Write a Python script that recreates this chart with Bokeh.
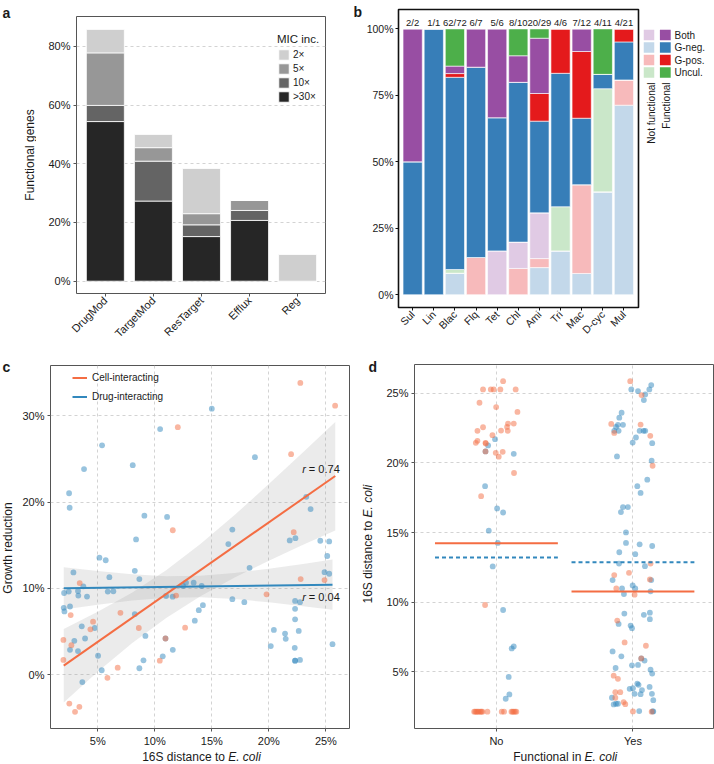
import math
from bokeh.plotting import figure
from bokeh.models import (ColumnDataSource, Range1d, FixedTicker, PrintfTickFormatter,
                          Legend, LegendItem, Label)
from bokeh.layouts import row, column
from bokeh.embed import file_html
from bokeh.resources import INLINE
from bokeh.core.properties import value

FONT = "Liberation Sans"
TXT = "#1a1a1a"
GRID = "#c8c8c8"
FRAME = "#555555"

# ---------------- panel a data ----------------
mech_categories = ["DrugMod", "TargetMod", "ResTarget", "Efflux", "Reg"]
mic_levels = [">30×", "10×", "5×", "2×"]
mic_over30x = [54.4, 27.3, 15.2, 20.7, 0.0]
mic_10x = [5.5, 13.6, 4.0, 3.4, 0.0]
mic_5x = [17.9, 4.6, 3.8, 3.4, 0.0]
mic_2x = [8.0, 4.5, 15.4, 0.0, 9.1]
mic_colors = ["#262626", "#646464", "#979797", "#cfcfcf"]
a_yticks = [0, 20, 40, 60, 80]

# ---------------- panel b data ----------------
drug_classes = ["Sul", "Lin", "Blac", "Flq", "Tet", "Chl", "Ami", "Tri", "Mac", "D-cyc", "Mul"]
class_counts = ["2/2", "1/1", "62/72", "6/7", "5/6", "8/10", "20/29", "4/6", "7/12", "4/11", "4/21"]
nf_gneg = [0, 0, 8.1, 0, 0, 0, 10.2, 16.5, 8.0, 38.7, 71.3]
nf_gpos = [0, 0, 0, 14.0, 0, 9.9, 3.4, 0, 33.4, 0, 9.5]
nf_both = [0, 0, 0, 0, 16.5, 9.9, 17.2, 0, 0, 0, 0]
nf_uncul = [0, 0, 1.4, 0, 0, 0, 0, 16.6, 0, 38.8, 0]
f_gneg = [50.0, 100.0, 72.3, 71.6, 50.1, 60.1, 34.5, 50.2, 25.0, 5.4, 14.3]
f_gpos = [0, 0, 1.4, 0, 0, 0, 10.4, 16.7, 25.1, 0, 4.9]
f_both = [50.0, 0, 2.8, 14.4, 33.4, 10.0, 20.8, 0, 8.5, 0, 0]
f_uncul = [0, 0, 14.0, 0, 0, 10.1, 3.5, 0, 0, 17.1, 0]
org_groups = ["Both", "G-neg.", "G-pos.", "Uncul."]
func_colors = ["#984EA3", "#377EB8", "#E41A1C", "#4DAF4A"]
nonfunc_colors = ["#E0CAE4", "#C3D8EA", "#F7BABB", "#CAE7C9"]
b_yticks = [0, 25, 50, 75, 100]

# ---------------- panel c data ----------------
cell_dist = [12.02, 11.58, 3.42, 2.63, 6.99, 4.59, 4.36, 8.60, 1.99, 2.69, 10.94, 10.44, 1.99,
             6.75, 5.85, 2.51, 3.39, 3.01, 11.87, 12.66, 22.76, 25.81, 21.95, 22.18, 22.79,
             24.88, 19.80]
cell_growth = [28.7, 16.74, 10.61, 6.90, 7.16, 6.13, 5.25, 5.40, 4.02, 3.41, 4.18, 1.61, 1.69,
               0.80, -0.38, -3.37, -3.75, -4.33, 9.16, 5.44, 33.83, 31.19, 25.56, 16.51, 11.07,
               10.96, 9.31]
drug_dist = [10.47, 5.38, 3.80, 8.07, 2.49, 2.54, 9.09, 11.08, 8.36, 5.15, 5.70, 2.87, 6.02,
             8.25, 8.65, 3.74, 2.05, 2.46, 3.27, 3.30, 4.06, 5.88, 6.37, 2.02, 2.08, 2.57, 8.25,
             3.60, 4.74, 9.18, 2.95, 3.89, 2.57, 3.27, 10.94, 11.58, 10.70, 5.03, 9.01, 8.65,
             5.35, 3.65, 10.99, 11.57, 12.48, 12.74, 13.41, 14.11, 13.86, 13.51, 14.22, 15.00,
             18.78, 23.28, 23.66, 16.80, 16.45, 21.83, 22.33, 24.51, 25.29, 25.12, 18.31, 24.88,
             25.29, 16.80, 17.85, 22.30, 22.73, 22.30, 22.30, 20.44, 22.62, 21.42, 21.48, 20.17,
             25.58, 22.27, 22.30, 22.30, 22.73]
drug_growth = [28.47, 26.59, 23.83, 24.29, 21.03, 19.35, 18.43, 18.28, 15.67, 13.56, 13.26, 11.84,
               11.30, 12.03, 11.07, 10.23, 9.46, 9.62, 9.69, 9.16, 9.04, 9.62, 9.66, 7.74, 7.32,
               7.89, 7.01, 5.59, 5.40, 4.48, 3.91, 4.18, 2.87, 2.72, 4.18, 2.87, 2.11, 2.18, 1.65,
               0.73, 0.50, -0.88, 9.11, 9.03, 10.27, 10.66, 10.66, 10.27, 7.47, 6.25, 8.05, 30.84,
               25.21, 20.61, 19.20, 16.82, 15.13, 15.56, 15.82, 15.52, 15.44, 13.75, 12.38, 11.88,
               11.69, 8.74, 8.39, 8.54, 8.39, 7.62, 6.40, 5.17, 5.06, 4.75, 4.14, 3.30, 3.52, 3.10,
               1.61, 1.61, 1.69]
cell_fit_x = [2.02, 25.82]
cell_fit_y = [1.04, 23.03]
drug_fit_x = [2.02, 25.58]
drug_fit_y = [10.00, 10.43]
cell_band_x = [2.02, 5, 8, 11, 14, 17, 20, 23, 25.82]
cell_band_lower = [-3.23, 0.31, 3.63, 6.57, 9.09, 11.25, 13.21, 15.06, 16.72]
cell_band_upper = [5.27, 7.27, 9.49, 12.09, 15.13, 18.51, 22.09, 25.78, 29.30]
drug_band_x = [2.02, 5, 8, 11, 14, 17, 20, 23, 25.58]
drug_band_lower = [7.55, 8.10, 8.59, 8.91, 8.97, 8.75, 8.38, 7.93, 7.51]
drug_band_upper = [12.45, 12.00, 11.63, 11.41, 11.47, 11.79, 12.28, 12.83, 13.35]
r_values = ["0.74", "0.04"]
c_xticks = [5, 10, 15, 20, 25]
c_yticks = [0, 10, 20, 30]

# ---------------- panel d data ----------------
func_groups = ["No", "Yes"]
no_cell_jit = [0.049, -0.098, -0.041, -0.020, 0.029, 0.141, -0.124, -0.002, 0.154, -0.098,
               0.085, 0.127, 0.078, 0.034, -0.139, 0.083, -0.029, -0.139, -0.151, -0.080,
               -0.078, -0.080, -0.005, 0.046, 0.017, 0.129, -0.112, -0.083,
               -0.163, -0.155, -0.146, -0.138, -0.129, -0.117, -0.110, -0.102, -0.066,
               0.039, 0.056, 0.110, 0.118, 0.127, 0.137, 0.146]
no_cell_dist = [25.88, 25.29, 25.29, 25.29, 25.29, 25.29, 24.33, 24.02, 23.67, 22.57,
                22.83, 22.83, 22.59, 22.33, 22.31, 22.31, 22.00, 21.59, 21.45, 21.45,
                21.40, 20.83, 20.73, 20.80, 20.45, 19.28, 17.61, 9.79,
                2.12, 2.12, 2.12, 2.12, 2.12, 2.12, 2.12, 2.12, 2.12,
                2.12, 2.12, 2.12, 2.12, 2.12, 2.12, 2.12]
no_drug_jit = [-0.010, -0.061, -0.080, 0.127, -0.083, 0.005, 0.049, -0.056, 0.010, -0.027,
               0.049, 0.112, 0.127, 0.090, 0.095, 0.068]
no_drug_dist = [21.71, 21.26, 20.83, 20.66, 18.33, 16.73, 16.44, 15.13, 14.25, 12.56,
                9.43, 6.67, 6.81, 4.62, 3.36, 3.05]
yes_cell_jit = [-0.020, 0.063, -0.159, -0.137, 0.056, 0.127, 0.144, 0.129, -0.137, -0.029,
                0.124, -0.122, 0.012, -0.115, -0.061, 0.095, 0.061, -0.141, -0.110, -0.129,
                -0.093, -0.129, -0.068, -0.056, 0.000, 0.137]
yes_cell_dist = [25.88, 24.88, 22.81, 22.16, 22.76, 21.95, 19.80, 12.77, 11.94, 12.10,
                 11.63, 10.98, 10.53, 8.67, 7.10, 6.86, 5.95, 4.71, 4.48, 3.52,
                 3.52, 3.12, 2.81, 2.66, 2.14, 2.12]
yes_drug_jit = [-0.012, 0.037, 0.090, 0.080, 0.120, 0.134, -0.083, -0.100, -0.110, -0.073,
                -0.124, -0.137, -0.105, 0.049, 0.078, 0.090, 0.141, 0.022, -0.002, -0.117,
                0.137, 0.105, 0.032, 0.056, -0.073, -0.037, -0.088, -0.051, -0.051, 0.049,
                0.141, -0.100, 0.017, -0.102, 0.088, -0.149, 0.134, -0.080, -0.002, 0.017,
                -0.066, 0.129, -0.063, 0.080, 0.124, 0.124, -0.105, -0.017, -0.007, -0.149,
                -0.085, 0.061, 0.085, -0.007, 0.037, -0.127, 0.129, 0.141, 0.032, 0.041,
                0.122, -0.024, 0.000, 0.066, 0.012, 0.056, 0.139, -0.154, 0.149, -0.141,
                -0.124, -0.110, 0.046, 0.144, 0.149]
yes_drug_dist = [25.29, 25.17, 24.93, 24.52, 25.29, 25.60, 23.62, 23.26, 22.74, 22.74,
                 22.59, 22.31, 22.31, 22.31, 22.31, 22.31, 21.42, 21.83, 21.47, 20.47,
                 20.16, 18.80, 18.33, 17.85, 16.82, 16.82, 16.47, 15.01, 14.25, 14.15,
                 14.03, 13.58, 13.44, 12.77, 12.58, 11.58, 11.58, 10.98, 11.20, 10.98,
                 10.58, 10.77, 9.17, 9.08, 9.24, 8.77, 8.43, 8.31, 8.12, 6.45,
                 6.10, 5.95, 5.79, 5.45, 5.48, 5.26, 5.14, 4.86, 4.14, 4.05,
                 3.90, 3.76, 3.81, 3.67, 3.40, 3.38, 3.40, 3.12, 2.95, 2.64,
                 2.69, 2.69, 2.16, 2.14, 2.14]
mean_cell = [14.22, 10.76]
mean_drug = [13.20, 12.86]
d_yticks = [5, 10, 15, 20, 25]

CELL = "#F46D43"
DRUG = "#3288BD"


def style(p, outline=FRAME, ow=1.0, fs="11px", standoff=3):
    p.outline_line_color = outline
    p.outline_line_width = ow
    p.border_fill_color = "white"
    p.background_fill_color = "white"
    for ax in p.axis:
        ax.axis_line_color = None
        ax.major_tick_line_color = outline
        ax.major_tick_out = 3
        ax.major_tick_in = 0
        ax.minor_tick_line_color = None
        ax.major_label_text_font = FONT
        ax.major_label_text_font_size = fs
        ax.major_label_text_color = TXT
        ax.major_label_standoff = standoff
    p.grid.grid_line_color = GRID
    p.grid.grid_line_dash = "3 3"
    p.grid.grid_line_width = 0.8


def strip(x0, x1, y0, y1):
    """Blank canvas whose data coordinates equal page pixels (for texts outside the frames)."""
    s = figure(width=x1 - x0, height=y1 - y0, x_range=Range1d(x0, x1), y_range=Range1d(y1, y0),
               output_backend="svg", toolbar_location=None, tools="", frame_align=False,
               x_axis_location=None, y_axis_location=None, min_border=0)
    s.outline_line_color = None
    s.grid.visible = False
    return s


def stext(s, x, y, text, size="12px", fstyle="normal", angle=0.0, align="left",
          baseline="middle"):
    s.text(x=[x], y=[y], text=[text], angle=angle, text_font=value(FONT), text_font_size=size,
           text_font_style=fstyle, text_align=align, text_baseline=baseline, text_color=TXT)


# =============== panel a ===============
sa = strip(0, 36, 0, 348)
stext(sa, 2, 12.3, "a", size="14px", fstyle="bold", baseline="alphabetic")
stext(sa, 29, 154.5, "Functional genes", angle=math.pi / 2, align="center")

pa = figure(width=312, height=348, x_range=Range1d(-0.6, 4.58), y_range=Range1d(-4.2, 90.2),
            output_backend="svg", toolbar_location=None, tools="", frame_align=False,
            min_border_left=40, min_border_right=23, min_border_top=16, min_border_bottom=55)
src_a = ColumnDataSource(dict(x=list(range(len(mech_categories))), m30=mic_over30x,
                              m10=mic_10x, m5=mic_5x, m2=mic_2x))
rs_a = pa.vbar_stack(["m30", "m10", "m5", "m2"], x="x", width=0.79, fill_color=mic_colors,
                     line_color="white", line_width=0.8, source=src_a)
style(pa)
pa.xgrid.visible = False
pa.xaxis.ticker = FixedTicker(ticks=list(range(len(mech_categories))))
pa.xaxis.major_label_overrides = {i: c for i, c in enumerate(mech_categories)}
pa.xaxis.major_label_orientation = math.pi / 4
pa.xaxis.major_label_standoff = 2
pa.yaxis.ticker = FixedTicker(ticks=a_yticks)
pa.yaxis.formatter = PrintfTickFormatter(format="%d%%")
leg_a = Legend(items=[LegendItem(label=lab, renderers=[r])
                      for lab, r in zip(mic_levels[::-1], rs_a[::-1])],
               location=(201, 190), title="MIC inc.", title_text_font=FONT,
               title_text_font_size="11.5px", title_text_font_style="normal",
               title_text_color=TXT, title_standoff=3,
               label_text_font=FONT, label_text_font_size="10px", label_text_color=TXT,
               glyph_height=13, glyph_width=13, label_height=12, label_width=10,
               label_standoff=3, spacing=1, padding=0, margin=0,
               background_fill_alpha=0, border_line_color=None)
pa.add_layout(leg_a)

# =============== panel b ===============
sb = strip(348, 363, 0, 348)
stext(sb, 353, 11.7, "b", size="14px", fstyle="bold", baseline="alphabetic")

pb = figure(width=277, height=348, x_range=Range1d(-0.67, 10.69), y_range=Range1d(-4.8, 107.3),
            output_backend="svg", toolbar_location=None, tools="", frame_align=False,
            min_border_left=32, min_border_right=2, min_border_top=9, min_border_bottom=41)
src_b = ColumnDataSource(dict(x=list(range(len(drug_classes))),
                              nf_gneg=nf_gneg, nf_gpos=nf_gpos, nf_both=nf_both, nf_uncul=nf_uncul,
                              f_gneg=f_gneg, f_gpos=f_gpos, f_both=f_both, f_uncul=f_uncul,
                              lab=class_counts))
b_stack = ["nf_gneg", "nf_gpos", "nf_both", "nf_uncul", "f_gneg", "f_gpos", "f_both", "f_uncul"]
b_colors = [nonfunc_colors[1], nonfunc_colors[2], nonfunc_colors[0], nonfunc_colors[3],
            func_colors[1], func_colors[2], func_colors[0], func_colors[3]]
pb.vbar_stack(b_stack, x="x", width=0.91, fill_color=b_colors, line_color="white",
              line_width=0.6, source=src_b)
pb.text(x="x", y=102.3, text="lab", source=src_b, text_font=value(FONT),
        text_font_size="9.5px", text_align="center", text_baseline="middle", text_color=TXT)
style(pb, outline="#111111", ow=1.6, fs="10.5px", standoff=2)
pb.grid.visible = False
pb.xaxis.ticker = FixedTicker(ticks=list(range(len(drug_classes))))
pb.xaxis.major_label_overrides = {i: c for i, c in enumerate(drug_classes)}
pb.xaxis.major_label_orientation = math.pi / 4
pb.yaxis.ticker = FixedTicker(ticks=b_yticks)
pb.yaxis.formatter = PrintfTickFormatter(format="%d%%")

# legend of panel b (canvas in page pixels)
pbl = strip(640, 714, 0, 348)
leg_rows = [34.5, 47.0, 59.5, 72.0]
pbl.rect(x=[648.5] * 4, y=leg_rows, width=10.5, height=10.5, fill_color=nonfunc_colors,
         line_color=None)
pbl.rect(x=[664.8] * 4, y=leg_rows, width=10.8, height=10.5, fill_color=func_colors,
         line_color=None)
pbl.text(x=[674] * 4, y=leg_rows, text=org_groups, text_font=value(FONT), text_font_size="10px",
         text_align="left", text_baseline="middle", text_color=TXT)
pbl.text(x=[650.5, 665.5], y=[82, 82], text=["Not functional", "Functional"], angle=math.pi / 2,
         text_font=value(FONT), text_font_size="10px", text_align="right",
         text_baseline="middle", text_color=TXT)

# =============== panel c ===============
sc = strip(0, 14, 348, 749)
stext(sc, 2, 366.7, "c", size="14px", fstyle="bold", baseline="alphabetic")
stext(sc, 7.5, 547.5, "Growth reduction", angle=math.pi / 2, align="center")

pc = figure(width=346, height=401, x_range=Range1d(0.86, 27.07), y_range=Range1d(-6.26, 35.85),
            output_backend="svg", toolbar_location=None, tools="", frame_align=False,
            min_border_left=36, min_border_right=11, min_border_top=17, min_border_bottom=19)
pc.varea(x=cell_band_x, y1=cell_band_lower, y2=cell_band_upper, fill_color="#999999",
         fill_alpha=0.2)
pc.varea(x=drug_band_x, y1=drug_band_lower, y2=drug_band_upper, fill_color="#999999",
         fill_alpha=0.2)
pc.scatter(x=drug_dist, y=drug_growth, size=5.8, fill_color=DRUG, fill_alpha=0.5, line_color=None)
pc.scatter(x=cell_dist, y=cell_growth, size=5.8, fill_color=CELL, fill_alpha=0.5, line_color=None)
l_cell = pc.line(x=cell_fit_x, y=cell_fit_y, line_color=CELL, line_width=2)
l_drug = pc.line(x=drug_fit_x, y=drug_fit_y, line_color=DRUG, line_width=2)
style(pc)
pc.xaxis.ticker = FixedTicker(ticks=c_xticks)
pc.yaxis.ticker = FixedTicker(ticks=c_yticks)
pc.xaxis.formatter = PrintfTickFormatter(format="%d%%")
pc.yaxis.formatter = PrintfTickFormatter(format="%d%%")
leg_c = Legend(items=[LegendItem(label="Cell-interacting", renderers=[l_cell]),
                      LegendItem(label="Drug-interacting", renderers=[l_drug])],
               location=(22, 324), label_text_font=FONT, label_text_font_size="10px",
               label_text_color=TXT, glyph_height=15, glyph_width=15, label_height=15,
               label_standoff=5, spacing=4, padding=0, margin=0,
               background_fill_alpha=0, border_line_color=None)
pc.add_layout(leg_c)
for r_val, yy in zip(r_values, [23.84, 9.0]):
    pc.add_layout(Label(x=22.92, y=yy, text="r", text_font=FONT, text_font_size="11px",
                        text_font_style="italic", text_align="left", text_baseline="middle",
                        text_color=TXT))
    pc.add_layout(Label(x=22.92, y=yy, x_offset=6.7, text="= " + r_val, text_font=FONT,
                        text_font_size="11px", text_align="left", text_baseline="middle",
                        text_color=TXT))

# =============== panel d ===============
sd = strip(360, 378, 348, 749)
stext(sd, 368, 366.7, "d", size="14px", fstyle="bold", baseline="alphabetic")
stext(sd, 367, 520.3, "16S distance to", angle=math.pi / 2, align="right")
stext(sd, 367, 517.0, "E. coli", fstyle="italic", angle=math.pi / 2, align="left")

pd_ = figure(width=336, height=401, x_range=Range1d(0.4, 2.59), y_range=Range1d(0.91, 27.08),
             output_backend="svg", toolbar_location=None, tools="", frame_align=False,
             min_border_left=36, min_border_right=1, min_border_top=16, min_border_bottom=19)
pd_.scatter(x=[1 + j for j in no_drug_jit], y=no_drug_dist, size=5.8, fill_color=DRUG,
            fill_alpha=0.5, line_color=None)
pd_.scatter(x=[2 + j for j in yes_drug_jit], y=yes_drug_dist, size=5.8, fill_color=DRUG,
            fill_alpha=0.5, line_color=None)
pd_.scatter(x=[1 + j for j in no_cell_jit], y=no_cell_dist, size=5.8, fill_color=CELL,
            fill_alpha=0.5, line_color=None)
pd_.scatter(x=[2 + j for j in yes_cell_jit], y=yes_cell_dist, size=5.8, fill_color=CELL,
            fill_alpha=0.5, line_color=None)
gpos = [1, 2]
pd_.segment(x0=[g - 0.45 for g in gpos], x1=[g + 0.45 for g in gpos], y0=mean_drug, y1=mean_drug,
            line_color=DRUG, line_width=2, line_dash="4 3")
pd_.segment(x0=[g - 0.45 for g in gpos], x1=[g + 0.45 for g in gpos], y0=mean_cell, y1=mean_cell,
            line_color=CELL, line_width=2)
style(pd_)
pd_.xaxis.ticker = FixedTicker(ticks=gpos)
pd_.xaxis.major_label_overrides = {g: n for g, n in zip(gpos, func_groups)}
pd_.yaxis.ticker = FixedTicker(ticks=d_yticks)
pd_.yaxis.formatter = PrintfTickFormatter(format="%d%%")

# =============== x-axis titles (bottom strip) ===============
sx = strip(0, 714, 749, 764)
stext(sx, 224.4, 756.5, "16S distance to", align="right")
stext(sx, 227.7, 756.5, "E. coli", fstyle="italic")
stext(sx, 580.8, 756.5, "Functional in", align="right")
stext(sx, 584.1, 756.5, "E. coli", fstyle="italic")

layout = column(row(sa, pa, sb, pb, pbl), row(sc, pc, sd, pd_), sx)
open("out.html", "w").write(file_html(layout, INLINE))
